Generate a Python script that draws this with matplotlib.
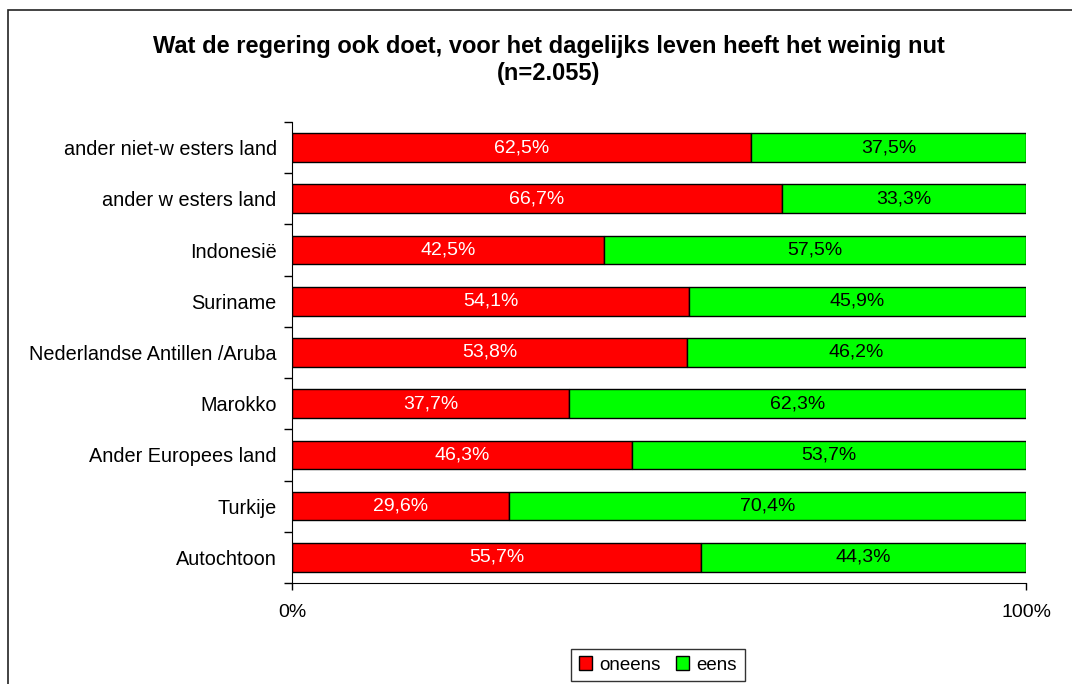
import matplotlib.pyplot as plt
import matplotlib.patches as patches
import numpy as np

plt.rcParams['font.family'] = ['Liberation Sans', 'DejaVu Sans']

categories = ['Autochtoon', 'Turkije', 'Ander Europees land', 'Marokko',
              'Nederlandse Antillen /Aruba', 'Suriname', 'Indonesië',
              'ander w esters land', 'ander niet-w esters land']
oneens = [55.7, 29.6, 46.3, 37.7, 53.8, 54.1, 42.5, 66.7, 62.5]
eens = [44.3, 70.4, 53.7, 62.3, 46.2, 45.9, 57.5, 33.3, 37.5]
series_names = ['oneens', 'eens']
title = 'Wat de regering ook doet, voor het dagelijks leven heeft het weinig nut\n(n=2.055)'

fig = plt.figure(figsize=(10.72, 6.84), dpi=100)
ax = fig.add_axes([0.2724, 0.1477, 0.6847, 0.6740])

# outer chart border (only left and top edges visible, rest is cropped)
fig.patches.append(patches.Rectangle((8 / 1072, -0.05), 1.1, 1.05 - 10 / 684,
                                     transform=fig.transFigure, fill=False,
                                     edgecolor='#222222', linewidth=1.2))

y = np.arange(len(categories))
h = 0.56
b1 = ax.barh(y, oneens, height=h, color='#FF0000', edgecolor='black', linewidth=1, label=series_names[0])
b2 = ax.barh(y, eens, left=oneens, height=h, color='#00FF00', edgecolor='black', linewidth=1, label=series_names[1])

for i in range(len(categories)):
    ax.text(oneens[i] / 2, y[i], f"{oneens[i]:.1f}%".replace('.', ','),
            ha='center', va='center', color='white', fontsize=14)
    ax.text(oneens[i] + eens[i] / 2, y[i], f"{eens[i]:.1f}%".replace('.', ','),
            ha='center', va='center', color='black', fontsize=14)

ax.set_xlim(0, 100)
ax.set_ylim(-0.5, len(categories) - 0.5)
ax.set_xticks([0, 100])
ax.set_xticklabels(['0%', '100%'], fontsize=14)
ax.set_yticks(y)
ax.set_yticklabels(categories, fontsize=14.3)
ax.set_yticks(np.arange(-0.5, len(categories)), minor=True)
ax.tick_params(axis='y', which='major', length=0, pad=11)
ax.tick_params(axis='y', which='minor', length=6, width=1)
ax.tick_params(axis='x', length=5, width=1, pad=10)
ax.spines['top'].set_visible(False)
ax.spines['right'].set_visible(False)

fig.text(549 / 1072, 1 - 60 / 684, title, ha='center', va='center',
         fontsize=17, fontweight='bold', linespacing=1.25)

leg = fig.legend(handles=[b1, b2], labels=series_names, loc='center',
                 bbox_to_anchor=(658 / 1072, 1 - 665 / 684), ncol=2,
                 fontsize=13.5, frameon=True, fancybox=False, edgecolor='black',
                 handlelength=0.7, handleheight=0.7, handletextpad=0.4,
                 columnspacing=0.8, borderpad=0.4)
leg.get_frame().set_linewidth(1)

fig.savefig('out.png', dpi=100)
